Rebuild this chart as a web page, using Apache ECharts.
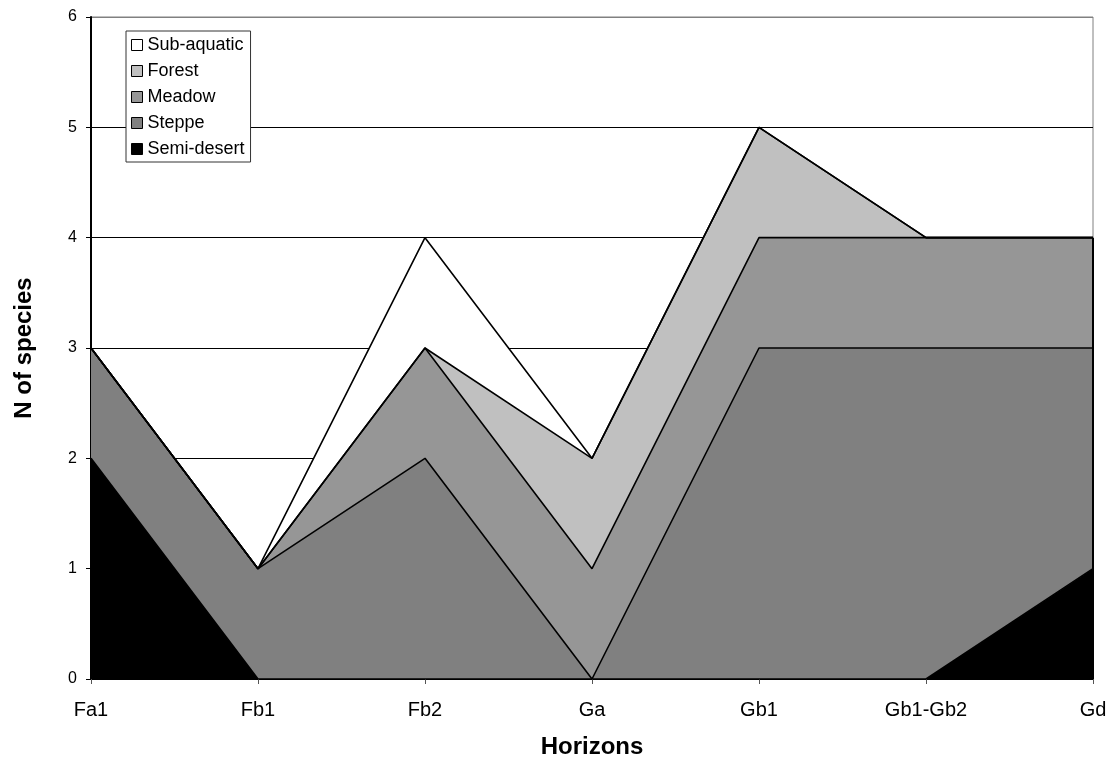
<!DOCTYPE html>
<html>
<head>
<meta charset="utf-8">
<script src="https://cdn.jsdelivr.net/npm/echarts@6/dist/echarts.min.js"></script>
<style>html,body{margin:0;padding:0;background:#fff}#c{width:1114px;height:764px}</style>
</head>
<body>
<div id="c"></div>
<script>
var categories = ['Fa1', 'Fb1', 'Fb2', 'Ga', 'Gb1', 'Gb1-Gb2', 'Gd'];
var semiDesert = [2, 0, 0, 0, 0, 0, 1];
var steppe = [1, 1, 2, 0, 3, 3, 2];
var meadow = [0, 0, 1, 1, 1, 1, 1];
var forest = [0, 0, 0, 1, 1, 0, 0];
var subAquatic = [0, 0, 1, 0, 0, 0, 0];
var yTicks = [0, 1, 2, 3, 4, 5, 6];

var FONT = 'Liberation Sans, Arial, sans-serif';
var lastIdx = categories.length - 1;
var lastTotal = semiDesert[lastIdx] + steppe[lastIdx] + meadow[lastIdx] + forest[lastIdx] + subAquatic[lastIdx];

function mk(name, data, color) {
  return {
    name: name, type: 'line', stack: 'total', data: data,
    showSymbol: false, symbol: 'none',
    itemStyle: {color: color, borderColor: '#000', borderWidth: 1},
    lineStyle: {color: '#000', width: 1.6},
    areaStyle: {color: color, opacity: 1},
    emphasis: {disabled: true}, animation: false
  };
}
var series = [
  mk('Semi-desert', semiDesert, '#000000'),
  mk('Steppe', steppe, '#808080'),
  mk('Meadow', meadow, '#969696'),
  mk('Forest', forest, '#C0C0C0'),
  mk('Sub-aquatic', subAquatic, '#FFFFFF')
];
series[4].markLine = {
  silent: true, symbol: 'none', label: {show: false},
  lineStyle: {color: '#000', width: 2, type: 'solid'},
  data: [[{coord: [categories[lastIdx], 0]}, {coord: [categories[lastIdx], lastTotal]}]]
};

var chart = echarts.init(document.getElementById('c'), null, {renderer: 'canvas'});
chart.setOption({
  backgroundColor: '#fff',
  animation: false,
  grid: {left: 91, right: 21, top: 17, bottom: 83, show: true, borderColor: '#808080', borderWidth: 1, backgroundColor: 'transparent'},
  legend: {
    orient: 'vertical', left: 126, top: 31,
    data: ['Sub-aquatic', 'Forest', 'Meadow', 'Steppe', 'Semi-desert'],
    icon: 'rect', itemWidth: 11, itemHeight: 11, itemGap: 8,
    padding: [5, 6, 4, 5],
    backgroundColor: '#fff', borderColor: '#333', borderWidth: 1,
    textStyle: {fontFamily: FONT, fontSize: 18, color: '#000', lineHeight: 18},
    itemStyle: {borderColor: '#000', borderWidth: 1},
    selectedMode: false
  },
  xAxis: {
    type: 'category', data: categories, boundaryGap: false,
    name: 'Horizons', nameLocation: 'middle', nameGap: 56,
    nameTextStyle: {fontFamily: FONT, fontSize: 24, fontWeight: 'bold', color: '#000'},
    axisLine: {lineStyle: {color: '#000', width: 2}},
    axisTick: {show: true, length: 5, lineStyle: {color: '#555'}, alignWithLabel: true},
    axisLabel: {fontFamily: FONT, fontSize: 20, color: '#000', margin: 21},
    splitLine: {show: false}
  },
  yAxis: {
    type: 'value', min: 0, max: 6, interval: 1,
    name: 'N of species', nameLocation: 'middle', nameGap: 55,
    nameTextStyle: {fontFamily: FONT, fontSize: 24, fontWeight: 'bold', color: '#000'},
    axisLine: {show: true, lineStyle: {color: '#000', width: 2}},
    axisTick: {show: true, length: 5, lineStyle: {color: '#000'}},
    axisLabel: {fontFamily: FONT, fontSize: 16, color: '#000', margin: 14,
      formatter: function (v) { return yTicks.indexOf(v) >= 0 ? String(v) : ''; }},
    splitLine: {show: true, lineStyle: {color: ['#000', '#000', '#000', '#000', '#000', '#000', '#808080'], width: 1}}
  },
  series: series
});
</script>
</body>
</html>
